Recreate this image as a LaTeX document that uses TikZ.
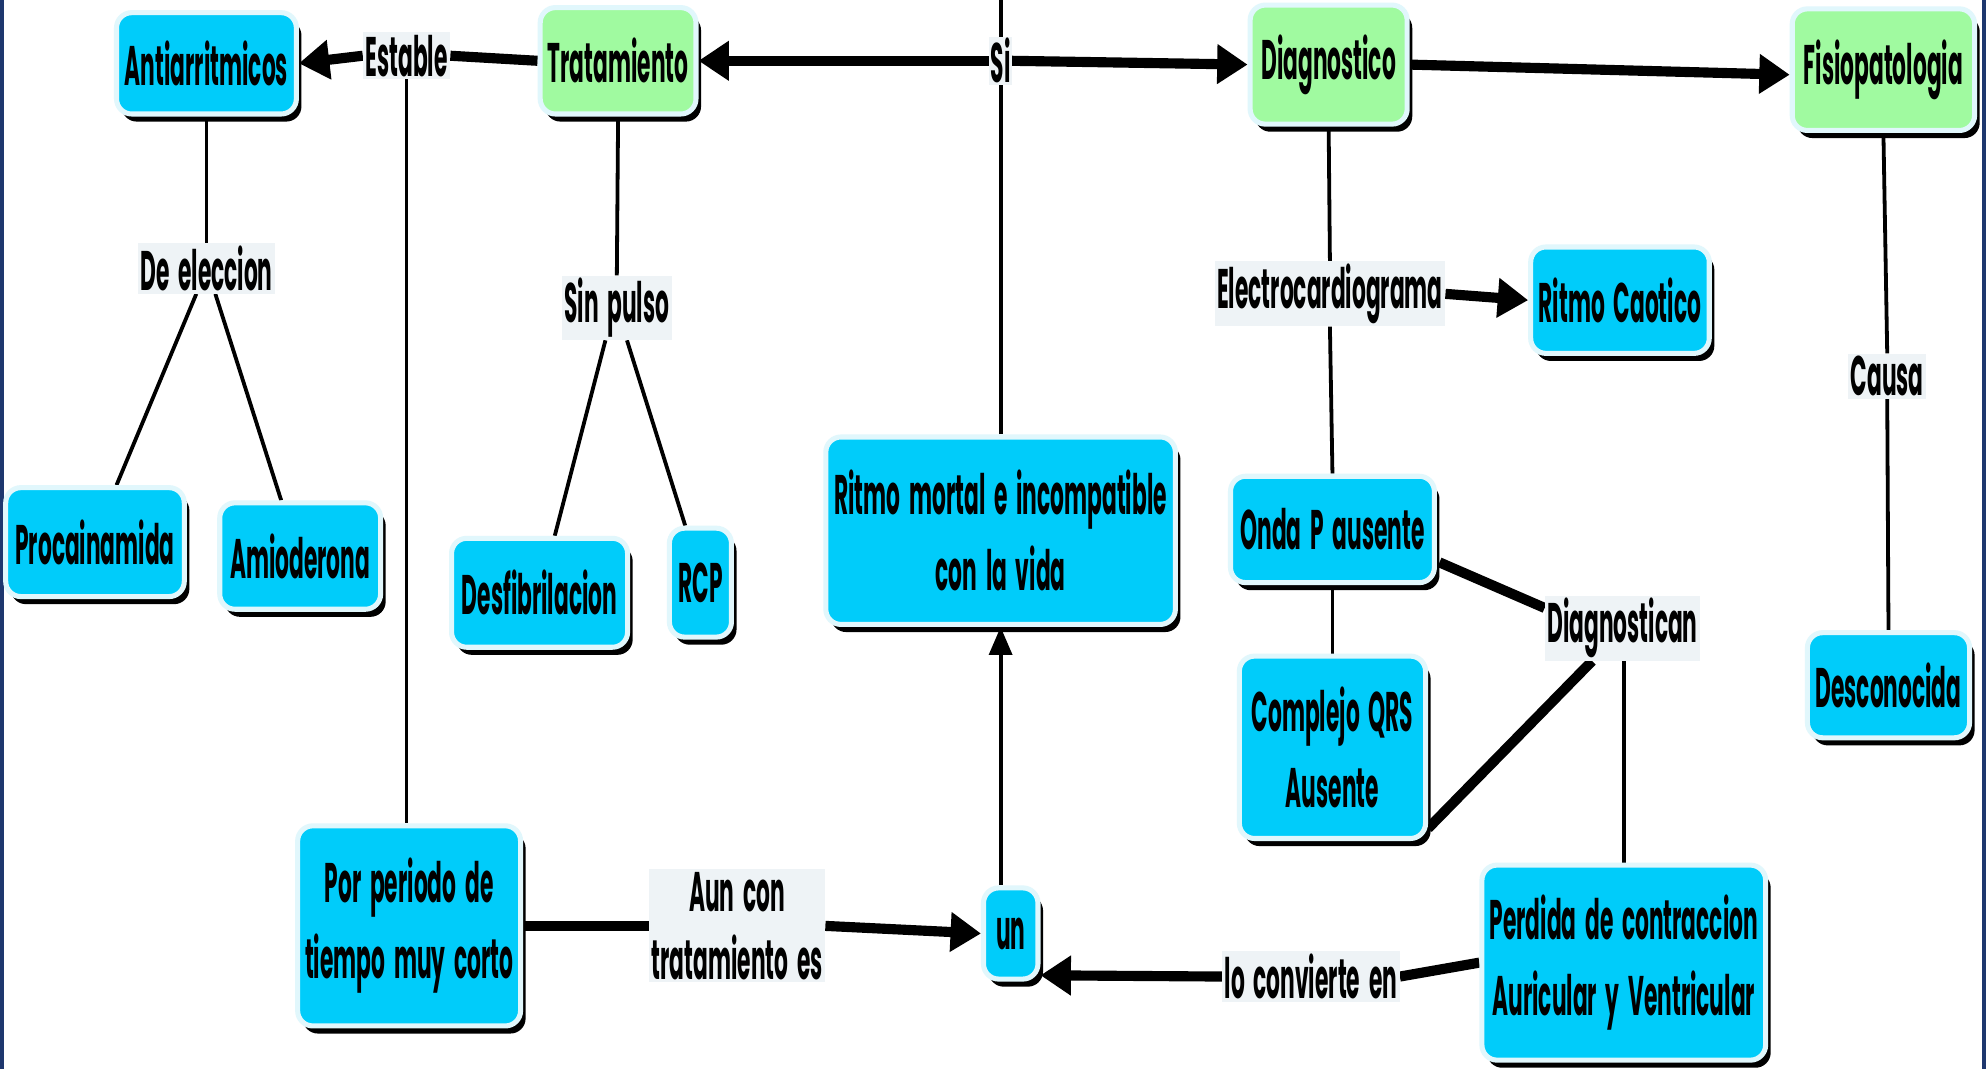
\documentclass[tikz,border=0pt]{standalone}
\usepackage{fontspec}
\setmainfont{Poppins}[FakeStretch=0.39, WordSpace=1.9]
\usetikzlibrary{arrows.meta,shadows,calc}
\definecolor{cyb}{RGB}{0,204,250}
\definecolor{grn}{RGB}{160,250,160}
\definecolor{pale}{RGB}{225,247,252}
\definecolor{lbg}{RGB}{238,243,246}
\definecolor{frm}{RGB}{30,55,110}
\pgfdeclarelayer{bg}
\pgfsetlayers{bg,main}
\begin{document}
\begin{tikzpicture}[x=1pt,y=-1pt,
 box/.style={rounded corners=12pt, fill=cyb, draw=pale, line width=4pt, align=center, inner sep=0pt,
   font=\fontsize{44}{60}\selectfont\bfseries,
   drop shadow={fill=black, opacity=1, shadow xshift=4pt, shadow yshift=-6pt}},
 gbox/.style={box, fill=grn},
 lab/.style={fill=lbg, inner sep=2pt, align=center, font=\fontsize{44}{54}\selectfont\bfseries},
 conn/.style={line width=3pt},
 fat/.style={line width=8pt},
 arr/.style={-{Triangle[length=24pt,width=30pt]}},
 sarr/.style={-{Triangle[length=22pt,width=18pt]}},
]
\useasboundingbox (0,0) rectangle (1568,844);

% nodes
\node[box, minimum width=142, minimum height=80] (anti) at (163,50) {Antiarritmicos};
\node[gbox, minimum width=123, minimum height=84] (trat) at (488,48) {Tratamiento};
\node[gbox, minimum width=124, minimum height=94] (diag) at (1049,51) {Diagnostico};
\node[gbox, minimum width=144, minimum height=96] (fisio) at (1487,55) {Fisiopatologia};
\node[box, minimum width=141, minimum height=86] (proc) at (75,428) {Procainamida};
\node[box, minimum width=127, minimum height=84] (amio) at (237,439) {Amioderona};
\node[box, minimum width=139, minimum height=86] (desf) at (426,468) {Desfibrilacion};
\node[box, minimum width=49, minimum height=86] (rcp) at (553,460) {RCP};
\node[box, minimum width=276, minimum height=148] (ritmo) at (790,419) {Ritmo mortal e incompatible\\con la vida};
\node[box, minimum width=161, minimum height=84] (onda) at (1052,418) {Onda P ausente};
\node[box, minimum width=147, minimum height=144] (compl) at (1052,590) {Complejo QRS\\Ausente};
\node[box, minimum width=141, minimum height=84] (caot) at (1279,237) {Ritmo Caotico};
\node[box, minimum width=128, minimum height=83] (desc) at (1491,541) {Desconocida};
\node[box, minimum width=176, minimum height=158] (por) at (323,731) {Por periodo de\\tiempo muy corto};
\node[box, minimum width=43, minimum height=72] (un) at (798,737) {un};
\node[box, minimum width=224, minimum height=154] (perd) at (1282,760) {Perdida de contraccion\\Auricular y Ventricular};

% linking labels
\node[lab] (estable) at (321,44) {Estable};
\node[lab, inner sep=1pt] (si) at (790,48) {Si};
\node[lab] (elecc) at (163,212) {De eleccion};
\node[lab] (sinp) at (487,243) {Sin pulso};
\node[lab] (electro) at (1050,232) {Electrocardiograma};
\node[lab] (causa) at (1490,297) {Causa};
\node[lab] (diagn) at (1281,496) {Diagnostican};
\node[lab] (aun) at (582,731) {Aun con\\tratamiento es};
\node[lab] (lo) at (1035,771) {lo convierte en};
\coordinate (top) at (790,0);

\begin{pgfonlayer}{bg}
\fill[white] (0,0) rectangle (1568,844);
\draw[frm, line width=3pt] (1.5,0) -- (1.5,844);
\draw[frm, line width=3pt] (1566.5,0) -- (1566.5,844);
\draw[fat, arr] (estable.west) -- (anti.east);
\draw[fat] (trat.west) -- (estable.east);
\draw[conn] (estable.south) -- (estable.south |- por.north);
\draw[fat, arr] (si.west) -- (trat.east);
\draw[fat, arr] (si.east) -- (diag.west);
\draw[conn] (ritmo.north) -- (top);
\draw[fat, arr] (diag.east) -- ($(fisio.west)+(0,4)$);
\draw[conn] (anti.south) -- (elecc.north);
\draw[conn] ($(elecc.south)+(-8,0)$) -- ($(proc.north)+(17,0)$);
\draw[conn] ($(elecc.south)+(7,0)$) -- ($(amio.north)+(-15,0)$);
\draw[conn] (trat.south) -- (sinp.north);
\draw[conn] ($(sinp.south)+(-9,0)$) -- ($(desf.north)+(12,0)$);
\draw[conn] ($(sinp.south)+(8,0)$) -- ($(rcp.north)+(-12,0)$);
\draw[conn, sarr] (ritmo.south |- un.north) -- (ritmo.south);
\draw[fat] (por.east) -- (aun.west);
\draw[fat, arr] (aun.east) -- (un.west);
\draw[fat] (perd.west) -- (lo.east);
\draw[fat, arr] (lo.west) -- ($(un.east)+(0,33)$);
\draw[conn] (diagn.south -| perd.north) -- (perd.north);
\draw[fat] ($(onda.east)+(2,26)$) -- ($(diagn.west)+(0,-16)$);
\draw[fat] ($(compl.east)+(0,64)$) -- ($(diagn.south)+(-24,0)$);
\draw[conn] (onda.south) -- (compl.north);
\draw[conn] (diag.south) -- (electro.north);
\draw[conn] (electro.south) -- (onda.north);
\draw[fat, arr] (electro.east) -- (caot.west);
\draw[conn] (fisio.south) -- (causa.north);
\draw[conn] (causa.south) -- (desc.north);
\end{pgfonlayer}
\end{tikzpicture}
\end{document}
